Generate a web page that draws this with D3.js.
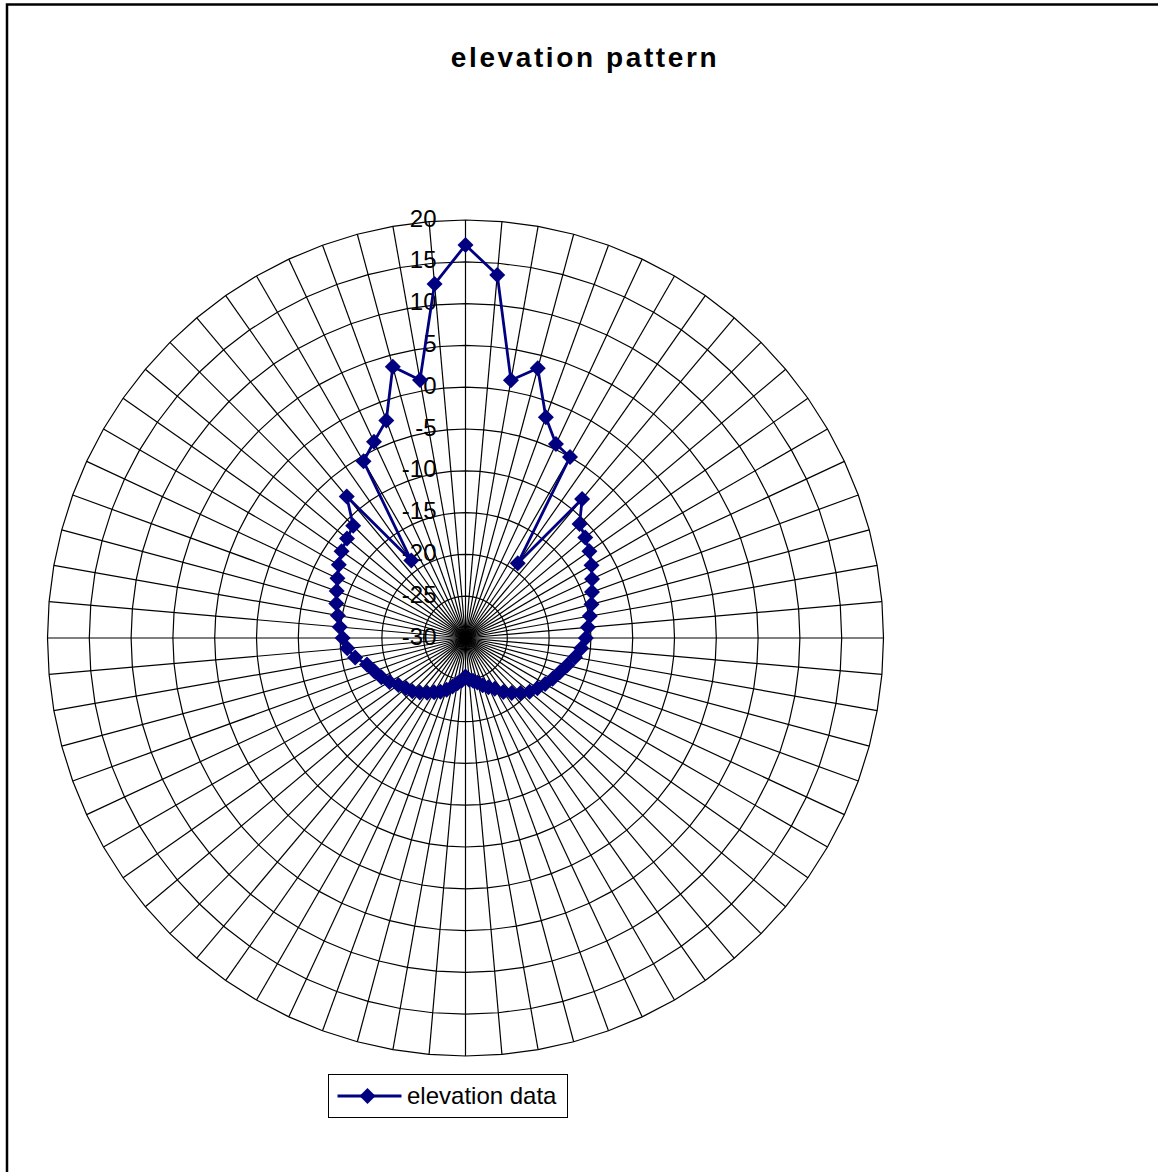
<!DOCTYPE html>
<html>
<head>
<meta charset="utf-8">
<script src="https://cdn.jsdelivr.net/npm/d3@7"></script>
<style>
  body { margin: 0; background: #fff; }
  svg { display: block; }
</style>
</head>
<body>
<div id="chart"></div>
<script>
// categories (degrees), one spoke each
var angles = [0, 5, 10, 15, 20, 25, 30, 35, 40, 45, 50, 55, 60, 65, 70, 75, 80, 85,
  90, 95, 100, 105, 110, 115, 120, 125, 130, 135, 140, 145, 150, 155, 160, 165, 170, 175,
  180, 185, 190, 195, 200, 205, 210, 215, 220, 225, 230, 235, 240, 245, 250, 255, 260, 265,
  270, 275, 280, 285, 290, 295, 300, 305, 310, 315, 320, 325, 330, 335, 340, 345, 350, 355];

// elevation data (dB)
var elevation = [17.0, 13.6, 1.3, 3.4, -1.9, -4.4, -5.0, -19.1, -8.3, -10.7, -11.3, -11.9,
  -12.6, -13.3, -13.9, -14.4, -14.9, -15.3, -15.6, -16.1, -16.7, -17.4, -18.0, -18.5,
  -19.0, -19.5, -20.0, -20.7, -21.4, -22.1, -23.0, -23.5, -24.0, -24.5, -24.8, -25.0,
  -25.4, -24.9, -24.5, -24.0, -23.4, -22.9, -22.5, -22.0, -21.5, -21.0, -20.7, -20.2,
  -19.5, -18.9, -18.4, -17.8, -16.6, -15.8, -15.3, -14.9, -14.5, -14.0, -13.6, -13.1,
  -12.5, -11.9, -11.5, -11.0, -7.9, -18.7, -5.6, -4.1, -2.3, 3.6, 1.35, 12.5];

var tickValues = [-30, -25, -20, -15, -10, -5, 0, 5, 10, 15, 20];

var width = 1158, height = 1172;
var cx = 465.5, cy = 638, outerR = 418;
var navy = "#000080";

var svg = d3.select("#chart").append("svg")
  .attr("width", width)
  .attr("height", height);

// chart area border
svg.append("rect")
  .attr("x", 7).attr("y", 4.5)
  .attr("width", 1300).attr("height", 1300)
  .attr("fill", "#fff")
  .attr("stroke", "#000")
  .attr("stroke-width", 2.5);

svg.append("text")
  .attr("x", 585).attr("y", 67)
  .attr("text-anchor", "middle")
  .style("font-family", "Liberation Sans, Arial, sans-serif")
  .style("font-weight", "bold")
  .style("font-size", "28px")
  .style("letter-spacing", "2.6px")
  .text("elevation pattern");

var r = d3.scaleLinear().domain([-30, 20]).range([0, outerR]);
var a = d3.scaleLinear().domain([0, 360]).range([0, 2 * Math.PI]);

var g = svg.append("g").attr("transform", "translate(" + cx + "," + cy + ")");

// spokes
g.selectAll("line.spoke")
  .data(angles)
  .enter().append("line")
  .attr("class", "spoke")
  .attr("x1", 0).attr("y1", 0)
  .attr("x2", function(d) { return r(20) * Math.sin(a(d)); })
  .attr("y2", function(d) { return -r(20) * Math.cos(a(d)); })
  .attr("stroke", "#000")
  .attr("stroke-width", 1.2);

// grid rings (polygons through the spokes)
var ringLine = d3.lineRadial()
  .angle(function(d) { return a(d); })
  .curve(d3.curveLinearClosed);

g.selectAll("path.ring")
  .data(tickValues.slice(1))
  .enter().append("path")
  .attr("class", "ring")
  .attr("d", function(v) { return ringLine.radius(r(v))(angles); })
  .attr("fill", "none")
  .attr("stroke", "#000")
  .attr("stroke-width", 1.2);

// value axis labels
g.selectAll("text.tick")
  .data(tickValues)
  .enter().append("text")
  .attr("class", "tick")
  .attr("x", -29)
  .attr("y", function(d) { return -r(d) - 2; })
  .attr("text-anchor", "end")
  .attr("dominant-baseline", "central")
  .style("font-family", "Liberation Sans, Arial, sans-serif")
  .style("font-size", "24px")
  .text(function(d) { return d; });

// data series
var pts = angles.map(function(d, i) { return { ang: d, val: elevation[i] }; });

var seriesLine = d3.lineRadial()
  .angle(function(d) { return a(d.ang); })
  .radius(function(d) { return r(d.val); })
  .curve(d3.curveLinearClosed);

g.append("path")
  .datum(pts)
  .attr("d", seriesLine)
  .attr("fill", "none")
  .attr("stroke", navy)
  .attr("stroke-width", 2.8);

var diamond = "M0,-8L8,0L0,8L-8,0Z";
g.selectAll("path.marker")
  .data(pts)
  .enter().append("path")
  .attr("class", "marker")
  .attr("d", diamond)
  .attr("transform", function(d) {
    var rr = r(d.val), t = a(d.ang);
    return "translate(" + (rr * Math.sin(t)) + "," + (-rr * Math.cos(t)) + ")";
  })
  .attr("fill", navy);

// legend
var lg = svg.append("g").attr("transform", "translate(328.5,1074.5)");
lg.append("rect")
  .attr("width", 239).attr("height", 43)
  .attr("fill", "#fff")
  .attr("stroke", "#000")
  .attr("stroke-width", 1);
lg.append("line")
  .attr("x1", 9).attr("x2", 73)
  .attr("y1", 21.5).attr("y2", 21.5)
  .attr("stroke", navy)
  .attr("stroke-width", 2.8);
lg.append("path")
  .attr("d", diamond)
  .attr("transform", "translate(39,21.5)")
  .attr("fill", navy);
lg.append("text")
  .attr("x", 78.5).attr("y", 29)
  .style("font-family", "Liberation Sans, Arial, sans-serif")
  .style("font-size", "24px")
  .text("elevation data");
</script>
</body>
</html>
